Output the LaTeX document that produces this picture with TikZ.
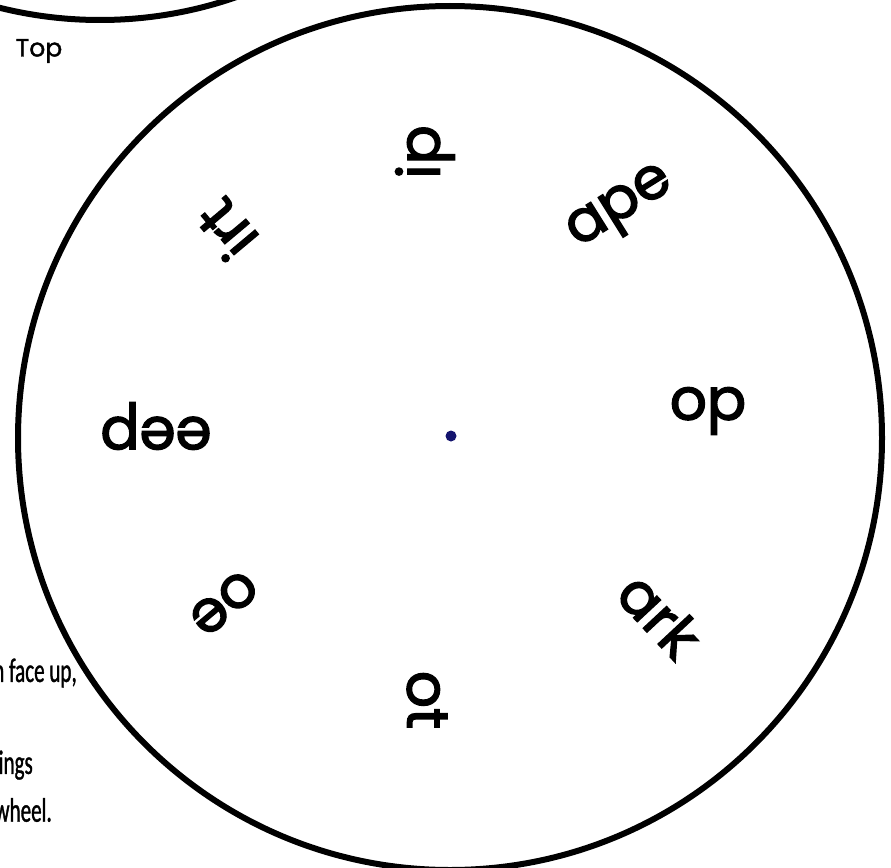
\documentclass[tikz,border=0pt]{standalone}
\usepackage{fontspec}
\setmainfont{Poppins}
\newfontfamily\wordfont[FakeBold=2.5]{Poppins}
\newfontfamily\topfont[FakeBold=1.5]{Poppins}
\newfontfamily\notefont[FakeStretch=0.62,FakeBold=1]{Carlito}
\definecolor{dotblue}{RGB}{20,20,110}
\begin{document}
\begin{tikzpicture}[x=1pt,y=-1pt,
  word/.style={font=\wordfont\fontsize{58}{60}\selectfont, inner sep=0pt},
  note/.style={font=\notefont\fontsize{34}{40}\selectfont, inner sep=0pt, anchor=east},
  rim/.style={line width=6pt, draw=black}]
\useasboundingbox (0,0) rectangle (891,867);
\clip (0,0) rectangle (891,867);
% partial wheel at top left
\draw[rim] (100,-395) circle[radius=415pt];
% main wheel
\draw[rim] (450,438) circle[radius=432pt];
\fill[dotblue] (451,436) circle[radius=5.5pt];
% labels
\node[font=\topfont\fontsize{25}{27}\selectfont, inner sep=0pt] (top) at (39,51) {Top};
\node[note] (n1) at (77,673) {n face up,};
\node[note] (n2) at (33,765) {lings};
\node[note] (n3) at (52,810) {wheel.};
% words on the wheel
\node[word, rotate=90]  (w1) at (425,152) {ip};
\node[word, rotate=32]  (w2) at (622,210) {ape};
\node[word]             (w3) at (708,411) {op};
\node[word, rotate=-47] (w4) at (660,615) {ark};
\node[word, rotate=-90] (w5) at (427,700) {ot};
\node[word, rotate=220] (w6) at (224,603) {oe};
\node[word, rotate=180] (w7) at (156,426) {eep};
\node[word, rotate=130] (w8) at (226,230) {irt};
\end{tikzpicture}
\end{document}
